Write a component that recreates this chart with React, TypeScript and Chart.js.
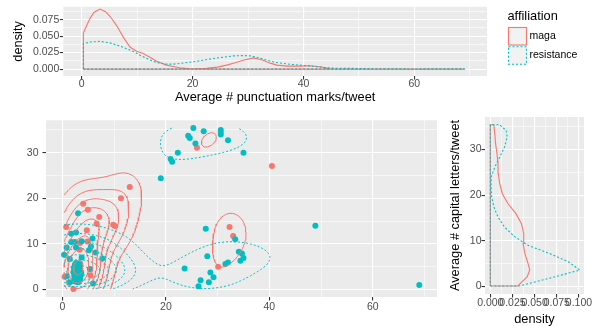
import React, { useEffect, useRef } from 'react';
import { Chart, registerables } from 'chart.js';

Chart.register(...registerables);

const FONT_FAMILY = '"Liberation Sans", Arial, Helvetica, sans-serif';
const TITLE_SIZE = 12.8;
const TICK_SIZE = 10.5;
const MAGA_COLOR = '#F8766D';
const RES_COLOR = '#00BFC4';
const TICK_TEXT = '#4D4D4D';
const PANEL_BG = '#EBEBEB';
const DOTTED = [2, 2];

const affiliations = ['maga', 'resistance'];
const legendTitle = 'affiliation';
const xTitle = 'Average # punctuation marks/tweet';
const yTitle = 'Average # capital letters/tweet';
const densityTitle = 'density';

// ---- scatter data (punctuation marks/tweet, capital letters/tweet) ----
const magaPunct = [13.0, 11.3, 4.0, 4.9, 7.1, 9.8, 10.1, 6.6, 0.7, 4.7, 4.8, 3.4, 3.3, 5.4, 0.4, 2.1, 30.1, 32.3, 33.0, 26.0, 40.5, 30.6, 2.5, 3.0, 2.8, 3.4, 2.3, 3.1, 2.6, 3.6];
const magaCaps = [22.5, 20.0, 18.8, 17.5, 15.9, 14.2, 13.9, 14.4, 13.7, 13.0, 10.5, 10.2, 8.7, 3.1, 2.8, 0.1, 5.0, 13.7, 11.7, 31.1, 27.1, 34.5, 4.0, 3.3, 5.0, 4.4, 2.6, 2.0, 5.8, 3.6];

const resPunct = [
  25.3, 27.3, 30.6, 30.6, 24.3, 24.6, 25.7, 32.0, 35.0, 22.3, 20.9, 21.2, 19.0,
  27.7, 33.4, 34.1, 34.7, 35.0, 34.4, 28.0, 31.5, 32.0, 23.6, 28.6, 29.2, 28.3, 26.7, 26.3,
  48.9, 69.0,
  3.0, 1.7, 2.6, 5.8, 1.7, 3.7, 2.4, 5.1, 6.4, 5.5, 7.7, 0.3, 2.6, 0.8, 0.8, 3.7, 1.4, 5.3, 5.9, 1.3,
  2.2, 2.5, 2.8, 3.1, 3.4, 2.3, 2.6, 2.9, 3.2, 3.5, 2.1, 2.4, 2.7, 3.0, 3.3, 3.6, 2.2, 2.5, 2.8, 3.1, 3.4, 2.4, 2.7, 3.0, 3.3, 2.6, 3.0,
];
const resCaps = [
  35.4, 34.7, 35.0, 34.0, 33.7, 33.2, 32.0, 32.7, 30.0, 30.0, 28.6, 28.0, 24.4,
  13.3, 11.0, 8.3, 7.9, 6.9, 6.3, 7.3, 5.6, 5.9, 4.6, 3.7, 2.7, 1.6, 2.0, 0.7,
  14.0, 1.0,
  16.7, 12.2, 12.5, 11.2, 10.4, 10.6, 10.4, 8.6, 8.1, 9.4, 6.8, 7.6, 9.2, 9.2, 2.9, 7.0, 6.7, 4.5, 1.3, 1.5,
  2.0, 2.4, 2.1, 2.6, 2.2, 3.0, 3.3, 3.0, 3.4, 3.0, 3.8, 4.1, 3.9, 4.2, 4.0, 3.8, 4.7, 5.0, 4.7, 5.0, 4.6, 5.5, 5.8, 5.4, 5.6, 1.7, 1.6,
];

// ---- marginal densities ----
const topMagaX = [0.3, 0.9, 1.5, 2.2, 3.3, 4.3, 5.2, 6.3, 7.5, 8.7, 9.9, 11.1, 12.3, 13.5, 15.3, 16.5, 17.7, 19.8, 22.5, 24.5, 26.1, 27.7, 29.1, 31.0, 32.7, 34.0, 35.2, 37.0, 39.4, 41.2, 43.0, 44.8, 47.0, 69.0];
const topMagaD = [0.055, 0.066, 0.077, 0.086, 0.091, 0.087, 0.079, 0.066, 0.0485, 0.0335, 0.027, 0.0235, 0.018, 0.012, 0.006, 0.004, 0.002, 0.0005, 0.001, 0.003, 0.006, 0.0095, 0.0135, 0.017, 0.0135, 0.009, 0.006, 0.0045, 0.0045, 0.005, 0.0035, 0.0005, 0, 0];
const topResX = [0.3, 1.5, 3.3, 5.0, 6.5, 8.1, 9.5, 10.5, 12.0, 13.5, 15.3, 16.5, 17.7, 20.1, 22.0, 23.7, 25.5, 27.3, 29.0, 30.4, 32.0, 33.4, 35.0, 36.4, 38.0, 39.4, 41.0, 42.4, 44.0, 45.4, 47.0, 49.0, 52.0, 56.0, 60.0, 65.0, 69.0];
const topResD = [0.0385, 0.041, 0.042, 0.040, 0.036, 0.031, 0.026, 0.021, 0.015, 0.010, 0.0075, 0.0075, 0.0085, 0.011, 0.0135, 0.016, 0.018, 0.020, 0.0205, 0.020, 0.017, 0.0135, 0.010, 0.0085, 0.007, 0.006, 0.0048, 0.0035, 0.0022, 0.0015, 0.001, 0.001, 0.0006, 0.0003, 0.0002, 0.0004, 0.0005];

const rightMagaY = [0.1, 2.1, 3.6, 5.0, 7.2, 9.4, 11.6, 13.8, 16.0, 18.1, 20.3, 22.5, 24.7, 26.9, 29.1, 31.2, 33.4, 35.4];
const rightMagaD = [0.031, 0.0415, 0.0445, 0.0426, 0.039, 0.037, 0.0377, 0.035, 0.0287, 0.020, 0.0136, 0.0106, 0.009, 0.0087, 0.0075, 0.006, 0.005, 0.004];
const rightResY = [0.1, 1.8, 3.6, 5.4, 7.2, 9.0, 10.9, 13.0, 15.2, 17.4, 19.6, 21.8, 24.0, 26.1, 28.3, 30.5, 32.7, 34.1, 35.4];
const rightResD = [0.033, 0.067, 0.101, 0.088, 0.067, 0.0426, 0.0275, 0.016, 0.0087, 0.004, 0.0015, 0.0008, 0.001, 0.005, 0.0106, 0.016, 0.019, 0.018, 0.0106];

// ---- ticks ----
const xMajorTicks = [0, 20, 40, 60];
const xMinorTicks = [10, 30, 50, 70];
const yMajorTicks = [0, 10, 20, 30];
const yMinorTicks = [5, 15, 25, 35];
const densMajorTicks = [0, 0.025, 0.05, 0.075, 0.1];
const densMinorTicks = [0.0125, 0.0375, 0.0625, 0.0875];

Chart.defaults.font.family = FONT_FAMILY;

type Pt = { x: number; y: number };

// ---- 2D kernel density (as MASS::kde2d) + contour lines ----
function quantile7(sorted: number[], p: number) {
  const h = (sorted.length - 1) * p;
  const lo = Math.floor(h);
  const hi = Math.ceil(h);
  return sorted[lo] + (h - lo) * (sorted[hi] - sorted[lo]);
}
function bandwidthNrd(a: number[]) {
  const s = [...a].sort((p, q) => p - q);
  const r = (quantile7(s, 0.75) - quantile7(s, 0.25)) / 1.34;
  const m = a.reduce((t, v) => t + v, 0) / a.length;
  const sdv = Math.sqrt(a.reduce((t, v) => t + (v - m) * (v - m), 0) / (a.length - 1));
  return 4 * 1.06 * Math.min(sdv, r) * Math.pow(a.length, -0.2);
}
function dnorm(u: number) {
  return Math.exp(-0.5 * u * u) / Math.sqrt(2 * Math.PI);
}
function kde2d(xs: number[], ys: number[], lims: number[], n: number) {
  const hx = bandwidthNrd(xs) / 4;
  const hy = bandwidthNrd(ys) / 4;
  const gx: number[] = [];
  const gy: number[] = [];
  for (let i = 0; i < n; i++) {
    gx.push(lims[0] + ((lims[1] - lims[0]) * i) / (n - 1));
    gy.push(lims[2] + ((lims[3] - lims[2]) * i) / (n - 1));
  }
  const ax = gx.map((g) => xs.map((x) => dnorm((g - x) / hx)));
  const ay = gy.map((g) => ys.map((y) => dnorm((g - y) / hy)));
  const z: number[][] = [];
  for (let i = 0; i < n; i++) {
    const row: number[] = [];
    for (let j = 0; j < n; j++) {
      let s = 0;
      for (let k = 0; k < xs.length; k++) s += ax[i][k] * ay[j][k];
      row.push(s / (xs.length * hx * hy));
    }
    z.push(row);
  }
  return { gx, gy, z };
}
function pretty(lo: number, hi: number, n: number) {
  const h = 1.5;
  const h5 = 0.5 + 1.5 * h;
  const cell = (hi - lo) / n;
  const base = Math.pow(10, Math.floor(Math.log10(cell)));
  let unit = base;
  if (2 * base - cell < h * (cell - unit)) {
    unit = 2 * base;
    if (5 * base - cell < h5 * (cell - unit)) {
      unit = 5 * base;
      if (10 * base - cell < h * (cell - unit)) unit = 10 * base;
    }
  }
  const ns = Math.floor(lo / unit + 1e-7);
  const nu = Math.ceil(hi / unit - 1e-7);
  const out: number[] = [];
  for (let k = ns; k <= nu; k++) out.push(k * unit);
  return out;
}
const CASES: Record<number, string[][]> = {
  1: [['L', 'B']], 2: [['B', 'R']], 3: [['L', 'R']], 4: [['R', 'T']],
  6: [['B', 'T']], 7: [['L', 'T']], 8: [['L', 'T']], 9: [['B', 'T']],
  11: [['R', 'T']], 12: [['L', 'R']], 13: [['B', 'R']], 14: [['L', 'B']],
};
function isolines(z: number[][], gx: number[], gy: number[], L: number): Pt[][] {
  const pts = new Map<string, Pt>();
  const adj = new Map<string, string[]>();
  const link = (a: string, b: string) => {
    if (!adj.has(a)) adj.set(a, []);
    if (!adj.has(b)) adj.set(b, []);
    adj.get(a)!.push(b);
    adj.get(b)!.push(a);
  };
  const n = gx.length;
  for (let i = 0; i < n - 1; i++) {
    for (let j = 0; j < gy.length - 1; j++) {
      const zbl = z[i][j], zbr = z[i + 1][j], ztr = z[i + 1][j + 1], ztl = z[i][j + 1];
      let c = 0;
      if (zbl >= L) c |= 1;
      if (zbr >= L) c |= 2;
      if (ztr >= L) c |= 4;
      if (ztl >= L) c |= 8;
      if (c === 0 || c === 15) continue;
      let segs: string[][];
      const center = (zbl + zbr + ztr + ztl) / 4;
      if (c === 5) segs = center >= L ? [['B', 'R'], ['L', 'T']] : [['L', 'B'], ['R', 'T']];
      else if (c === 10) segs = center >= L ? [['L', 'B'], ['R', 'T']] : [['B', 'R'], ['L', 'T']];
      else segs = CASES[c];
      const edge = (e: string) => {
        let key: string, x1: number, y1: number, z1: number, x2: number, y2: number, z2: number;
        if (e === 'B') { key = `h${i}_${j}`; x1 = gx[i]; y1 = gy[j]; z1 = zbl; x2 = gx[i + 1]; y2 = gy[j]; z2 = zbr; }
        else if (e === 'T') { key = `h${i}_${j + 1}`; x1 = gx[i]; y1 = gy[j + 1]; z1 = ztl; x2 = gx[i + 1]; y2 = gy[j + 1]; z2 = ztr; }
        else if (e === 'L') { key = `v${i}_${j}`; x1 = gx[i]; y1 = gy[j]; z1 = zbl; x2 = gx[i]; y2 = gy[j + 1]; z2 = ztl; }
        else { key = `v${i + 1}_${j}`; x1 = gx[i + 1]; y1 = gy[j]; z1 = zbr; x2 = gx[i + 1]; y2 = gy[j + 1]; z2 = ztr; }
        if (!pts.has(key)) {
          const t = (L - z1) / (z2 - z1);
          pts.set(key, { x: x1 + t * (x2 - x1), y: y1 + t * (y2 - y1) });
        }
        return key;
      };
      for (const [a, b] of segs) link(edge(a), edge(b));
    }
  }
  const takeNext = (k: string) => {
    const l = adj.get(k);
    if (!l || l.length === 0) return null;
    const nx = l.pop()!;
    const l2 = adj.get(nx)!;
    const idx = l2.indexOf(k);
    if (idx >= 0) l2.splice(idx, 1);
    return nx;
  };
  const walk = (start: string) => {
    const line: Pt[] = [pts.get(start)!];
    let cur = start;
    let nxt: string | null;
    while ((nxt = takeNext(cur)) !== null) {
      line.push(pts.get(nxt)!);
      cur = nxt;
    }
    return line;
  };
  const lines: Pt[][] = [];
  for (const [k, l] of adj) if (l.length === 1) lines.push(walk(k));
  for (const [k, l] of adj) while (l.length > 0) lines.push(walk(k));
  return lines.filter((l) => l.length > 1);
}

const allX = [...magaPunct, ...resPunct];
const allY = [...magaCaps, ...resCaps];
const kdeLims = [Math.min(...allX), Math.max(...allX), Math.min(...allY), Math.max(...allY)];

function contourDatasets(xs: number[], ys: number[], color: string, dash: number[], order: number) {
  const { gx, gy, z } = kde2d(xs, ys, kdeLims, 100);
  let zmin = Infinity;
  let zmax = -Infinity;
  for (const row of z) for (const v of row) { if (v < zmin) zmin = v; if (v > zmax) zmax = v; }
  const breaks = pretty(zmin, zmax, 10).filter((b) => b > zmin && b < zmax);
  const out: any[] = [];
  for (const b of breaks) {
    for (const line of isolines(z, gx, gy, b)) {
      out.push({
        data: line, showLine: true, borderColor: color, borderWidth: 1, borderDash: dash,
        pointRadius: 0, pointHoverRadius: 0, fill: false, tension: 0, order,
      });
    }
  }
  return out;
}

// ---- axes helpers ----
function isIn(list: number[], v: number) {
  return list.some((m) => Math.abs(m - v) < 1e-9);
}
function makeAxis(o: {
  min: number; max: number; major: number[]; minor: number[]; fmt: (v: number) => string;
  size: number; horizontal: boolean; pad: number; title?: string; titlePad?: any;
}) {
  const all = [...o.major, ...o.minor].filter((v) => v >= o.min && v <= o.max).sort((a, b) => a - b);
  return {
    type: 'linear',
    min: o.min,
    max: o.max,
    bounds: 'data',
    afterBuildTicks: (s: any) => { s.ticks = all.map((v) => ({ value: v })); },
    afterFit: (s: any) => { if (o.horizontal) s.height = o.size; else s.width = o.size; },
    ticks: {
      autoSkip: false, maxRotation: 0, minRotation: 0, padding: o.pad, color: TICK_TEXT,
      font: { family: FONT_FAMILY, size: TICK_SIZE, lineHeight: 1.2 },
      callback: (v: number) => (isIn(o.major, v) ? o.fmt(v) : ''),
    },
    grid: {
      color: '#FFFFFF',
      lineWidth: (c: any) => (c.tick && isIn(o.major, c.tick.value) ? 1.1 : 0.55),
      drawTicks: true,
      tickLength: 3.5,
      tickWidth: 1.1,
      tickColor: (c: any) => (c.tick && isIn(o.major, c.tick.value) ? '#333333' : 'rgba(0,0,0,0)'),
    },
    border: { display: false },
    title: o.title
      ? { display: true, text: o.title, color: '#000000', font: { family: FONT_FAMILY, size: TITLE_SIZE, lineHeight: 1.2 }, padding: o.titlePad }
      : { display: false },
  };
}

const panelBg = {
  id: 'panelBg',
  beforeDraw(chart: any) {
    const { ctx, chartArea: a } = chart;
    ctx.save();
    ctx.fillStyle = PANEL_BG;
    ctx.fillRect(a.left, a.top, a.right - a.left, a.bottom - a.top);
    ctx.restore();
  },
};

const legendPlugin = {
  id: 'ggLegend',
  afterDraw(chart: any) {
    const ctx = chart.ctx;
    ctx.save();
    ctx.textBaseline = 'middle';
    ctx.textAlign = 'left';
    ctx.fillStyle = '#000000';
    ctx.font = `${TITLE_SIZE}px ${FONT_FAMILY}`;
    ctx.fillText(legendTitle, 507.5, 16.5);
    const keys = [
      { label: affiliations[0], color: MAGA_COLOR, dash: [] as number[] },
      { label: affiliations[1], color: RES_COLOR, dash: DOTTED },
    ];
    keys.forEach((k, i) => {
      const y0 = 27 + i * 19.3;
      ctx.fillStyle = '#F2F2F2';
      ctx.fillRect(508, y0, 19, 18.5);
      ctx.strokeStyle = k.color;
      ctx.lineWidth = 1.1;
      ctx.setLineDash(k.dash);
      ctx.strokeRect(508.5, y0 + 0.5, 18, 17.5);
      ctx.setLineDash([]);
      ctx.fillStyle = '#000000';
      ctx.font = `${TICK_SIZE}px ${FONT_FAMILY}`;
      ctx.fillText(k.label, 529.5, y0 + 9.3);
    });
    ctx.restore();
  },
};

function polygonX(xs: number[], ds: number[]): Pt[] {
  const pts: Pt[] = [{ x: xs[0], y: 0 }];
  xs.forEach((x, i) => pts.push({ x, y: ds[i] }));
  pts.push({ x: xs[xs.length - 1], y: 0 });
  pts.push({ x: xs[0], y: 0 });
  return pts;
}
function polygonY(ys: number[], ds: number[]): Pt[] {
  const pts: Pt[] = [{ x: 0, y: ys[0] }];
  ys.forEach((y, i) => pts.push({ x: ds[i], y }));
  pts.push({ x: 0, y: ys[ys.length - 1] });
  pts.push({ x: 0, y: ys[0] });
  return pts;
}
function lineDs(data: Pt[], color: string, dash: number[], order: number) {
  return { data, showLine: true, borderColor: color, borderWidth: 1.1, borderDash: dash, pointRadius: 0, pointHoverRadius: 0, fill: false, tension: 0, order };
}

function baseOptions(padding: any, scales: any) {
  return {
    responsive: false,
    animation: false,
    devicePixelRatio: 1,
    events: [],
    layout: { padding },
    plugins: { legend: { display: false }, tooltip: { enabled: false } },
    scales,
  };
}

export default function App() {
  const topRef = useRef<HTMLCanvasElement>(null);
  const mainRef = useRef<HTMLCanvasElement>(null);
  const rightRef = useRef<HTMLCanvasElement>(null);

  useEffect(() => {
    const fmt3 = (v: number) => v.toFixed(3);
    const fmt0 = (v: number) => String(v);

    const top = new Chart(topRef.current!, {
      type: 'scatter',
      data: {
        datasets: [
          lineDs(polygonX(topResX, topResD), RES_COLOR, DOTTED, 1),
          lineDs(polygonX(topMagaX, topMagaD), MAGA_COLOR, [], 2),
        ],
      },
      options: baseOptions({ left: 0, top: 6, right: 108, bottom: 0 }, {
        x: makeAxis({ min: -3.32, max: 73.1, major: xMajorTicks, minor: xMinorTicks, fmt: fmt0, size: 34, horizontal: true, pad: -2, title: xTitle, titlePad: { top: 0, bottom: 5 } }),
        y: makeAxis({ min: -0.0105, max: 0.0945, major: densMajorTicks, minor: densMinorTicks, fmt: fmt3, size: 63.3, horizontal: false, pad: 0.5, title: densityTitle, titlePad: { top: 11, bottom: 0 } }),
      }) as any,
      plugins: [panelBg, legendPlugin],
    } as any);

    const main = new Chart(mainRef.current!, {
      type: 'scatter',
      data: {
        datasets: [
          ...contourDatasets(resPunct, resCaps, RES_COLOR, DOTTED, 10),
          ...contourDatasets(magaPunct, magaCaps, MAGA_COLOR, [], 20),
          {
            data: resPunct.map((x, i) => ({ x, y: resCaps[i] })),
            pointRadius: 3, pointBorderWidth: 0, backgroundColor: RES_COLOR, borderColor: RES_COLOR, pointHoverRadius: 3, order: 30,
          },
          {
            data: magaPunct.map((x, i) => ({ x, y: magaCaps[i] })),
            pointRadius: 3, pointBorderWidth: 0, backgroundColor: MAGA_COLOR, borderColor: MAGA_COLOR, pointHoverRadius: 3, order: 40,
          },
        ],
      },
      options: baseOptions({ left: 0, top: 7, right: 2.3, bottom: 0 }, {
        x: makeAxis({ min: -3.2, max: 72.43, major: xMajorTicks, minor: xMinorTicks, fmt: fmt0, size: 29, horizontal: true, pad: 0 }),
        y: makeAxis({ min: -1.65, max: 37.1, major: yMajorTicks, minor: yMinorTicks, fmt: fmt0, size: 46, horizontal: false, pad: 4 }),
      }) as any,
      plugins: [panelBg],
    } as any);

    const right = new Chart(rightRef.current!, {
      type: 'scatter',
      data: {
        datasets: [
          lineDs(polygonY(rightResY, rightResD), RES_COLOR, DOTTED, 1),
          lineDs(polygonY(rightMagaY, rightMagaD), MAGA_COLOR, [], 2),
        ],
      },
      options: baseOptions({ left: 0, top: 7, right: 11, bottom: 0 }, {
        x: makeAxis({ min: -0.006, max: 0.1057, major: densMajorTicks, minor: densMinorTicks, fmt: fmt3, size: 32, horizontal: true, pad: -0.5, title: densityTitle, titlePad: { top: 0, bottom: -0.7 } }),
        y: makeAxis({ min: -1.65, max: 37.1, major: yMajorTicks, minor: yMinorTicks, fmt: fmt0, size: 45, horizontal: false, pad: 0, title: yTitle, titlePad: { top: 7.3, bottom: 0 } }),
      }) as any,
      plugins: [panelBg],
    } as any);

    return () => {
      top.destroy();
      main.destroy();
      right.destroy();
    };
  }, []);

  return (
    <div style={{ position: 'absolute', left: 0, top: 0, width: 595, height: 326, background: '#FFFFFF', overflow: 'hidden' }}>
      <canvas ref={topRef} width={595} height={110} style={{ position: 'absolute', left: 0, top: 0, width: 595, height: 110 }} />
      <canvas ref={mainRef} width={440} height={216} style={{ position: 'absolute', left: 0, top: 110, width: 440, height: 216 }} />
      <canvas ref={rightRef} width={155} height={216} style={{ position: 'absolute', left: 440, top: 110, width: 155, height: 216 }} />
    </div>
  );
}
